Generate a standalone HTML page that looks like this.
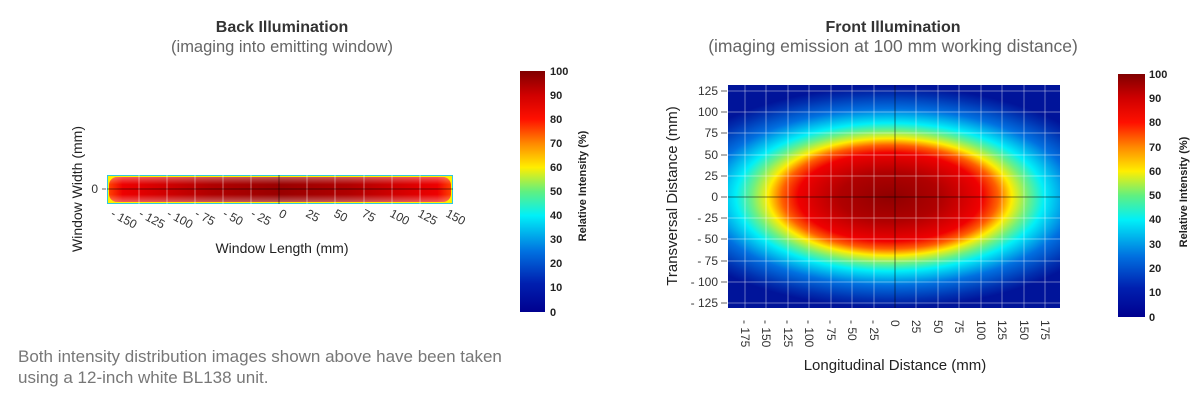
<!DOCTYPE html>
<html><head><meta charset="utf-8"><style>
body{margin:0;background:#fff;width:1200px;height:402px;overflow:hidden;font-family:"Liberation Sans",sans-serif}
svg{position:absolute;left:0;top:0}
</style></head><body>
<svg width="1200" height="402" viewBox="0 0 1200 402" font-family="Liberation Sans, sans-serif">
<defs>
<linearGradient id="cb" x1="0" y1="1" x2="0" y2="0">
<stop offset="0" stop-color="#00008f"/><stop offset="0.12" stop-color="#0020b0"/><stop offset="0.25" stop-color="#0070e0"/>
<stop offset="0.4" stop-color="#00f0f8"/><stop offset="0.5" stop-color="#60f080"/><stop offset="0.6" stop-color="#ffee00"/>
<stop offset="0.7" stop-color="#ff8800"/><stop offset="0.8" stop-color="#ff1000"/><stop offset="0.9" stop-color="#d00000"/><stop offset="1" stop-color="#800000"/>
</linearGradient>
<radialGradient id="fr" gradientUnits="userSpaceOnUse" cx="890" cy="197" r="230" gradientTransform="translate(890 197) scale(1 0.48) translate(-890 -197)">
<stop offset="0" stop-color="#900000"/><stop offset="0.22" stop-color="#b00000"/><stop offset="0.4" stop-color="#f00000"/>
<stop offset="0.47" stop-color="#ff6000"/><stop offset="0.53" stop-color="#ffee00"/><stop offset="0.6" stop-color="#70f080"/>
<stop offset="0.67" stop-color="#00f0f8"/><stop offset="0.8" stop-color="#0070e0"/><stop offset="0.93" stop-color="#0030b0"/><stop offset="1" stop-color="#00149a"/>
</radialGradient>
<linearGradient id="bk" x1="0" y1="0" x2="1" y2="0">
<stop offset="0" stop-color="#ff4000"/><stop offset="0.04" stop-color="#ee0000"/><stop offset="0.3" stop-color="#b00000"/><stop offset="0.5" stop-color="#9a0000"/><stop offset="0.7" stop-color="#b00000"/><stop offset="0.96" stop-color="#ee0000"/><stop offset="1" stop-color="#ff4000"/>
</linearGradient>
<linearGradient id="bkv" x1="0" y1="0" x2="0" y2="1">
<stop offset="0" stop-color="#fff" stop-opacity="0.35"/><stop offset="0.3" stop-color="#fff" stop-opacity="0"/><stop offset="0.7" stop-color="#fff" stop-opacity="0"/><stop offset="1" stop-color="#fff" stop-opacity="0.35"/>
</linearGradient>
</defs>
<text x="282" y="32" text-anchor="middle" font-size="16" font-weight="bold" fill="#333">Back Illumination</text>
<text x="282" y="52" text-anchor="middle" font-size="16.5" fill="#666">(imaging into emitting window)</text>
<rect x="107" y="175" width="346" height="29" fill="#30c8e0"/>
<rect x="108" y="176" width="344" height="27" fill="#ffee00"/>
<rect x="109" y="177" width="342" height="25" rx="8" fill="url(#bk)"/>
<rect x="109" y="177" width="342" height="25" rx="8" fill="url(#bkv)"/>
<g stroke="#fff" stroke-opacity="0.45" stroke-width="1">
<line x1="139" y1="175" x2="139" y2="204"/><line x1="167" y1="175" x2="167" y2="204"/><line x1="195" y1="175" x2="195" y2="204"/><line x1="223" y1="175" x2="223" y2="204"/><line x1="251" y1="175" x2="251" y2="204"/><line x1="307" y1="175" x2="307" y2="204"/><line x1="335" y1="175" x2="335" y2="204"/><line x1="364" y1="175" x2="364" y2="204"/><line x1="392" y1="175" x2="392" y2="204"/><line x1="420" y1="175" x2="420" y2="204"/>
</g>
<line x1="279" y1="175" x2="279" y2="204" stroke="#000" stroke-opacity="0.5"/>
<line x1="107" y1="189" x2="453" y2="189" stroke="#000" stroke-opacity="0.5"/>
<line x1="102" y1="189" x2="106" y2="189" stroke="#666"/>
<text x="98" y="193" text-anchor="end" font-size="12" fill="#333">0</text>
<g font-size="12" fill="#333">
<text transform="translate(110 216) rotate(28)">- 150</text>
<text transform="translate(138 216) rotate(28)">- 125</text>
<text transform="translate(166 216) rotate(28)">- 100</text>
<text transform="translate(194 216) rotate(28)">- 75</text>
<text transform="translate(222 216) rotate(28)">- 50</text>
<text transform="translate(250 216) rotate(28)">- 25</text>
<text transform="translate(278 216) rotate(28)">0</text>
<text transform="translate(305 216) rotate(28)">25</text>
<text transform="translate(333 216) rotate(28)">50</text>
<text transform="translate(361 216) rotate(28)">75</text>
<text transform="translate(389 216) rotate(28)">100</text>
<text transform="translate(417 216) rotate(28)">125</text>
<text transform="translate(445 216) rotate(28)">150</text>
</g>
<text x="282" y="253" text-anchor="middle" font-size="14" fill="#222">Window Length (mm)</text>
<text transform="translate(82 189) rotate(-90)" text-anchor="middle" font-size="14" fill="#222">Window Width (mm)</text>
<rect x="520" y="71" width="25" height="241" fill="url(#cb)"/>
<g font-size="11" font-weight="bold" fill="#222">
<text x="550" y="75">100</text><text x="550" y="99">90</text><text x="550" y="123">80</text><text x="550" y="147">70</text><text x="550" y="171">60</text><text x="550" y="195">50</text><text x="550" y="219">40</text><text x="550" y="243">30</text><text x="550" y="267">20</text><text x="550" y="291">10</text><text x="550" y="316">0</text>
</g>
<text transform="translate(586 186) rotate(-90)" text-anchor="middle" font-size="11" font-weight="bold" fill="#222">Relative Intensity (%)</text>
<text x="893" y="32" text-anchor="middle" font-size="16" font-weight="bold" fill="#333">Front Illumination</text>
<text x="893" y="52" text-anchor="middle" font-size="17.5" fill="#666">(imaging emission at 100 mm working distance)</text>
<rect x="728" y="85" width="332" height="223" fill="url(#fr)"/>
<g stroke="#fff" stroke-opacity="0.4">
<line x1="745" y1="85" x2="745" y2="308"/><line x1="766" y1="85" x2="766" y2="308"/><line x1="788" y1="85" x2="788" y2="308"/><line x1="809" y1="85" x2="809" y2="308"/><line x1="831" y1="85" x2="831" y2="308"/><line x1="852" y1="85" x2="852" y2="308"/><line x1="874" y1="85" x2="874" y2="308"/><line x1="916" y1="85" x2="916" y2="308"/><line x1="938" y1="85" x2="938" y2="308"/><line x1="959" y1="85" x2="959" y2="308"/><line x1="981" y1="85" x2="981" y2="308"/><line x1="1002" y1="85" x2="1002" y2="308"/><line x1="1024" y1="85" x2="1024" y2="308"/><line x1="1045" y1="85" x2="1045" y2="308"/>
<line x1="728" y1="91" x2="1060" y2="91"/><line x1="728" y1="112" x2="1060" y2="112"/><line x1="728" y1="133" x2="1060" y2="133"/><line x1="728" y1="155" x2="1060" y2="155"/><line x1="728" y1="176" x2="1060" y2="176"/><line x1="728" y1="218" x2="1060" y2="218"/><line x1="728" y1="239" x2="1060" y2="239"/><line x1="728" y1="261" x2="1060" y2="261"/><line x1="728" y1="282" x2="1060" y2="282"/><line x1="728" y1="303" x2="1060" y2="303"/>
</g>
<line x1="895" y1="85" x2="895" y2="308" stroke="#000" stroke-opacity="0.5"/>
<line x1="728" y1="197" x2="1060" y2="197" stroke="#000" stroke-opacity="0.5"/>
<g font-size="12" fill="#333" text-anchor="end">
<text x="718" y="95">125</text><text x="718" y="116">100</text><text x="718" y="137">75</text><text x="718" y="159">50</text><text x="718" y="180">25</text><text x="718" y="201">0</text><text x="718" y="222">- 25</text><text x="718" y="243">- 50</text><text x="718" y="265">- 75</text><text x="718" y="286">- 100</text><text x="718" y="307">- 125</text>
</g>
<g stroke="#666"><line x1="721" y1="91" x2="727" y2="91"/><line x1="721" y1="112" x2="727" y2="112"/><line x1="721" y1="133" x2="727" y2="133"/><line x1="721" y1="155" x2="727" y2="155"/><line x1="721" y1="176" x2="727" y2="176"/><line x1="721" y1="197" x2="727" y2="197"/><line x1="721" y1="218" x2="727" y2="218"/><line x1="721" y1="239" x2="727" y2="239"/><line x1="721" y1="261" x2="727" y2="261"/><line x1="721" y1="282" x2="727" y2="282"/><line x1="721" y1="303" x2="727" y2="303"/></g>
<g font-size="12" fill="#333">
<text transform="translate(741 320) rotate(90)">- 175</text>
<text transform="translate(762 320) rotate(90)">- 150</text>
<text transform="translate(784 320) rotate(90)">- 125</text>
<text transform="translate(805 320) rotate(90)">- 100</text>
<text transform="translate(827 320) rotate(90)">- 75</text>
<text transform="translate(848 320) rotate(90)">- 50</text>
<text transform="translate(870 320) rotate(90)">- 25</text>
<text transform="translate(891 320) rotate(90)">0</text>
<text transform="translate(912 320) rotate(90)">25</text>
<text transform="translate(934 320) rotate(90)">50</text>
<text transform="translate(955 320) rotate(90)">75</text>
<text transform="translate(977 320) rotate(90)">100</text>
<text transform="translate(998 320) rotate(90)">125</text>
<text transform="translate(1020 320) rotate(90)">150</text>
<text transform="translate(1041 320) rotate(90)">175</text>
</g>
<text x="895" y="370" text-anchor="middle" font-size="15" fill="#222">Longitudinal Distance (mm)</text>
<text transform="translate(677 196) rotate(-90)" text-anchor="middle" font-size="15" fill="#222">Transversal Distance (mm)</text>
<rect x="1118" y="74" width="27" height="243" fill="url(#cb)"/>
<g font-size="11" font-weight="bold" fill="#222">
<text x="1149" y="78">100</text><text x="1149" y="102">90</text><text x="1149" y="126">80</text><text x="1149" y="151">70</text><text x="1149" y="175">60</text><text x="1149" y="199">50</text><text x="1149" y="223">40</text><text x="1149" y="248">30</text><text x="1149" y="272">20</text><text x="1149" y="296">10</text><text x="1149" y="321">0</text>
</g>
<text transform="translate(1187 192) rotate(-90)" text-anchor="middle" font-size="11" font-weight="bold" fill="#222">Relative Intensity (%)</text>
<text x="18" y="362" font-size="17" fill="#777">Both intensity distribution images shown above have been taken</text>
<text x="18" y="383" font-size="17" fill="#777">using a 12-inch white BL138 unit.</text>
</svg>
</body></html>
